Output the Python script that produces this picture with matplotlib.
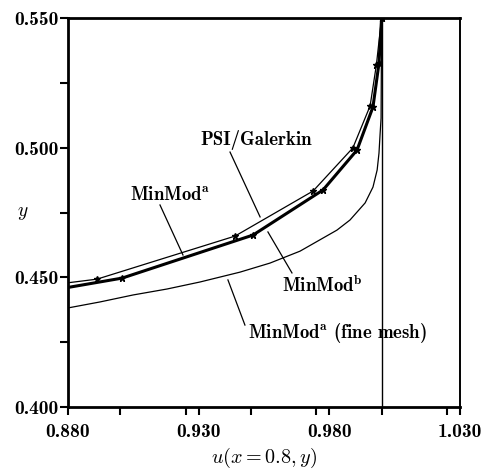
import numpy as np
import matplotlib
matplotlib.use("Agg")
import matplotlib.pyplot as plt
from matplotlib.ticker import MultipleLocator, FixedLocator

plt.rcParams['font.family'] = ['cmb10', 'DejaVu Serif']
plt.rcParams['mathtext.fontset'] = 'cm'
plt.rcParams['axes.unicode_minus'] = False

# values
psi_u = [0.880, 0.8911, 0.9439, 0.9738, 0.9890, 0.9956, 0.9980, 1.000]
psi_y = [0.4479, 0.4493, 0.4659, 0.4833, 0.4999, 0.5161, 0.5319, 0.550]

minmod_a_u = [0.880, 0.9007, 0.9508, 0.9776, 0.9906, 0.9967, 0.9990, 1.000]
minmod_a_y = [0.4461, 0.4497, 0.4663, 0.4837, 0.4991, 0.5157, 0.5326, 0.550]

minmod_b_u = [0.880, 0.9007, 0.9508, 0.9776, 0.9906, 0.9967, 0.9990, 1.000]
minmod_b_y = [0.4461, 0.4497, 0.4663, 0.4837, 0.4991, 0.5157, 0.5326, 0.550]

fine_u = [0.8800, 0.8922, 0.9049, 0.9179, 0.9305, 0.9458, 0.9573, 0.9688,
          0.9829, 0.9879, 0.9937, 0.9967, 0.9983, 0.9990, 0.9994, 0.9998, 1.000]
fine_y = [0.4382, 0.4405, 0.4432, 0.4455, 0.4482, 0.4520, 0.4555, 0.4601,
          0.4682, 0.4721, 0.4787, 0.4848, 0.4914, 0.4979, 0.5049, 0.5114, 0.550]

u_wall = 1.0

xticks = [0.880, 0.930, 0.980, 1.030]
yticks = [0.400, 0.450, 0.500, 0.550]

fig = plt.figure(figsize=(4.88, 4.72), dpi=100)
ax = fig.add_axes([68/488, 1-407/472, 392/488, 389/472])

ax.axvline(u_wall, color='k', lw=1.0)
ax.plot(fine_u, fine_y, color='k', lw=0.9)
ax.plot(minmod_a_u, minmod_a_y, color='k', lw=2.2, solid_capstyle='butt')
ax.plot(minmod_b_u[1:], minmod_b_y[1:], color='k', lw=0, marker='*', ms=5)
ax.plot(psi_u, psi_y, color='k', lw=0.9)
ax.plot(psi_u[1:], psi_y[1:], color='k', lw=0, marker='*', ms=5)

def label(text, txy, start, end):
    ax.plot([start[0], end[0]], [start[1], end[1]], color='k', lw=0.9)
    ax.text(txy[0], txy[1], text, fontsize=13.5, ha='center', va='center')

label('PSI/Galerkin', (0.9521, 0.5030), (0.9420, 0.4983), (0.9535, 0.4733))
label(r'MinMod$^{\mathbf{a}}$', (0.9190, 0.4817), (0.9152, 0.4779), (0.9240, 0.4586))
label(r'MinMod$^{\mathbf{b}}$', (0.9772, 0.4470), (0.9657, 0.4517), (0.9565, 0.4675))
label(r'MinMod$^{\mathbf{a}}$ (fine mesh)', (0.9833, 0.4285), (0.9477, 0.4316), (0.9412, 0.4490))

ax.set_xlim(0.88, 1.03)
ax.set_ylim(0.40, 0.55)
ax.xaxis.set_major_locator(FixedLocator(xticks))
ax.yaxis.set_major_locator(FixedLocator(yticks))
ax.set_xticklabels(['%.3f' % v for v in xticks])
ax.set_yticklabels(['%.3f' % v for v in yticks])
ax.xaxis.set_minor_locator(MultipleLocator(0.025))
ax.yaxis.set_minor_locator(MultipleLocator(0.025))
ax.tick_params(which='both', direction='out', length=5.5, width=1.5,
               top=False, right=False, labelsize=14)
ax.tick_params(axis='x', pad=6)
ax.tick_params(axis='y', pad=1)

for side in ['left', 'bottom', 'top']:
    ax.spines[side].set_linewidth(2.0)
ax.spines['right'].set_linewidth(1.4)

ax.set_xlabel(r'$u(x=0.8,y)$', fontsize=14.5)
ax.xaxis.set_label_coords(0.5, -0.1)
ax.set_ylabel(r'$y$', fontsize=14, rotation=0, va='center', ha='center')
ax.yaxis.set_label_coords(-0.115, 0.50)

fig.savefig('out.png', dpi=100)
